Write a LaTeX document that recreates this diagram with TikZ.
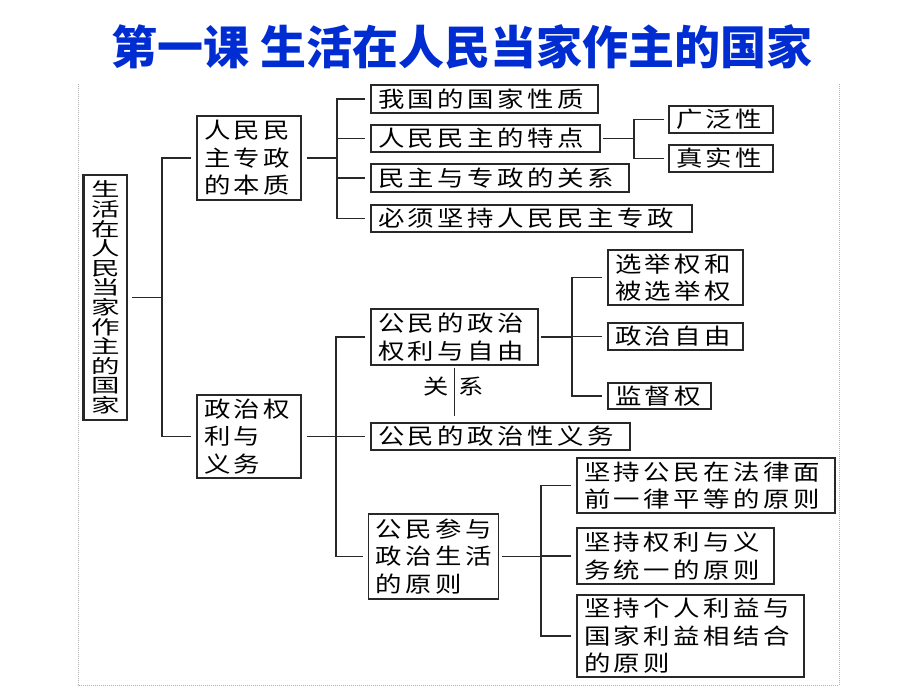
\documentclass[tikz,border=0pt]{standalone}
\usepackage{fontspec}
\newfontfamily\cjk[FakeStretch=1.2,LetterSpace=16]{Noto Sans CJK SC}
\newfontfamily\cjkroot[FakeStretch=1.5]{Noto Sans CJK SC}
\newfontfamily\cjkplain[FakeStretch=1.2]{Noto Sans CJK SC}
\newfontfamily\cjktitle{Noto Sans CJK SC}
\definecolor{titleblue}{RGB}{0,45,210}
\definecolor{linegray}{RGB}{40,40,40}
\begin{document}
\begin{tikzpicture}[x=1pt,y=-1pt,
  bx/.style={draw=linegray,line width=1.3pt,inner xsep=7pt,inner ysep=0pt,align=left,
             font=\cjk\fontsize{22}{27.5}\selectfont},
  conn/.style={draw=linegray,line width=1.2pt},
  frame/.style={draw=gray!60,line width=0.7pt,dash pattern=on 1pt off 1pt}]
\useasboundingbox (0,0) rectangle (920,690);
% frame
\draw[frame] (78,84) -- (78,685) -- (839,685) -- (839,84);
% title
\node[font=\cjktitle\bfseries\fontsize{46}{50}\selectfont,text=titleblue] (title) at (462,47) {第一课 生活在人民当家作主的国家};
% root
\node[draw=linegray,line width=1.6pt,minimum width=43pt,minimum height=245pt,inner sep=0pt,align=center,
      font=\cjkroot\fontsize{19}{19.6}\selectfont] (root) at (105.5,297.5)
  {生\\活\\在\\人\\民\\当\\家\\作\\主\\的\\国\\家};
\draw[linegray,line width=3pt] (root.south west) -- (root.north west);
% level 1
\node[bx,minimum width=104pt,minimum height=84pt,text width=90pt] (A) at (249,158) {人民民\\主专政\\的本质};
\node[bx,minimum width=104pt,minimum height=83pt,text width=90pt] (B) at (249,436.5) {政治权\\利与\\义务};
% leaves of A
\node[bx,minimum width=227pt,minimum height=28pt,text width=213pt] (L1) at (484.5,99) {我国的国家性质};
\node[bx,minimum width=229pt,minimum height=27pt,text width=215pt] (L2) at (485.5,138.5) {人民民主的特点};
\node[bx,minimum width=258pt,minimum height=28pt,text width=244pt] (L3) at (500,178) {民主与专政的关系};
\node[bx,minimum width=321pt,minimum height=27pt,text width=307pt] (L4) at (531.5,218.5) {必须坚持人民民主专政};
\node[bx,minimum width=104pt,minimum height=27pt,text width=90pt] (W1) at (721,119.5) {广泛性};
\node[bx,minimum width=104pt,minimum height=27pt,text width=90pt] (W2) at (721,158.5) {真实性};
% children of B
\node[bx,minimum width=167pt,minimum height=56pt,text width=153pt] (P1) at (454.5,337) {公民的政治\\权利与自由};
\node[bx,minimum width=259pt,minimum height=27pt,text width=245pt] (P2) at (500.5,436.5) {公民的政治性义务};
\node[bx,minimum width=130pt,minimum height=85pt,text width=116pt] (P3) at (433.5,556.5) {公民参与\\政治生活\\的原则};
\node[bx,minimum width=135pt,minimum height=55pt,text width=121pt] (Q1) at (675.5,277.5) {选举权和\\被选举权};
\node[bx,minimum width=135pt,minimum height=27pt,text width=121pt] (Q2) at (675.5,336.5) {政治自由};
\node[bx,minimum width=103pt,minimum height=26pt,text width=89pt] (Q3) at (659.5,396) {监督权};
\node[bx,minimum width=258pt,minimum height=55pt,text width=244pt] (R1) at (706,485.5) {坚持公民在法律面\\前一律平等的原则};
\node[bx,minimum width=197pt,minimum height=56pt,text width=183pt] (R2) at (675.5,556) {坚持权利与义\\务统一的原则};
\node[bx,minimum width=227pt,minimum height=82pt,text width=213pt] (R3) at (690.5,636) {坚持个人利益与\\国家利益相结合\\的原则};
% bus coordinates
\coordinate (b0) at (162,0);
\coordinate (b1) at (337,0);
\coordinate (b2) at (634,0);
\coordinate (b3) at (336,0);
\coordinate (b4) at (572,0);
\coordinate (b5) at (541,0);
% bus 0
\draw[conn,shorten <=5pt,shorten >=5pt] (A.west) -| (b0 |- root.east) |- (B.west);
\draw[conn,shorten <=4pt] (root.east) -- (b0 |- root.east);
% bus 1
\draw[conn,shorten <=5pt,shorten >=5pt] (L1.west) -| (b1 |- A.east) |- (L4.west);
\draw[conn,shorten >=5pt] (b1 |- L2.west) -- (L2.west);
\draw[conn,shorten >=5pt] (b1 |- L3.west) -- (L3.west);
\draw[conn,shorten <=5pt] (A.east) -- (b1 |- A.east);
% bus 2
\draw[conn,shorten <=4pt,shorten >=4pt] (W1.west) -| (b2 |- L2.east) |- (W2.west);
\draw[conn,shorten <=2pt] (L2.east) -- (b2 |- L2.east);
% bus 3
\draw[conn,shorten <=5pt,shorten >=5pt] (P1.west) -| (b3 |- B.east) |- (P3.west);
\draw[conn,shorten >=5pt] (b3 |- P2.west) -- (P2.west);
\draw[conn,shorten <=5pt] (B.east) -- (b3 |- B.east);
% bus 4
\draw[conn,shorten <=5pt,shorten >=5pt] (Q1.west) -| (b4 |- P1.east) |- (Q3.west);
\draw[conn,shorten >=5pt] (b4 |- Q2.west) -- (Q2.west);
\draw[conn,shorten <=2pt] (P1.east) -- (b4 |- P1.east);
% bus 5
\draw[conn,shorten <=5pt,shorten >=5pt] (R1.west) -| (b5 |- P3.east) |- (R3.west);
\draw[conn,shorten >=5pt] (b5 |- R2.west) -- (R2.west);
\draw[conn,shorten <=3pt] (P3.east) -- (b5 |- P3.east);
% relation
\draw[conn,shorten <=2pt,shorten >=6pt] (P1.south) -- (P1.south |- P2.north);
\node[font=\cjkplain\fontsize{21}{24}\selectfont] (rel) at (454,387) {关\hspace{10pt}系};
\end{tikzpicture}
\end{document}
